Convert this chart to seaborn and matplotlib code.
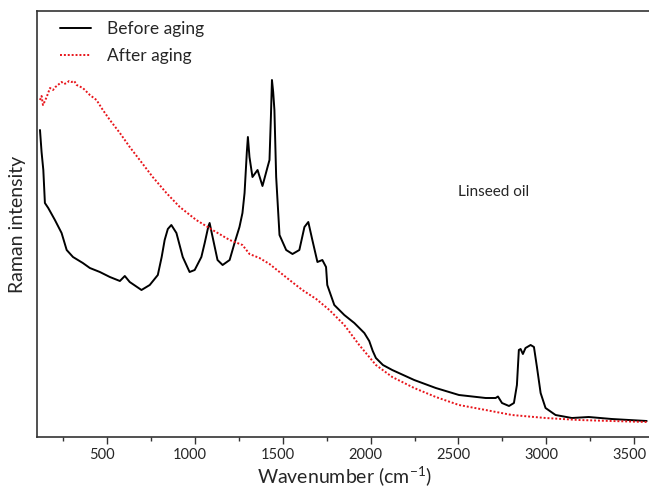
import numpy as np
import pandas as pd
import matplotlib
matplotlib.use("Agg")
import matplotlib.pyplot as plt
import matplotlib.transforms as mtransforms
from matplotlib.ticker import MultipleLocator
import seaborn as sns

# Raman spectrum of linseed oil before aging (wavenumber in cm-1, intensity in a.u.)
before_wavenumber = [117, 126, 136, 145, 164, 202, 240, 269, 305, 361, 401, 458, 515, 572, 600, 628,
                     695, 742, 788, 810, 827, 845, 865, 894, 930, 969, 998, 1036, 1055, 1075, 1083,
                     1100, 1128, 1157, 1197, 1225, 1253, 1270, 1282, 1295, 1301, 1310, 1327, 1356,
                     1384, 1413, 1424, 1432, 1438, 1445, 1452, 1462, 1481, 1519, 1555, 1594, 1623,
                     1645, 1668, 1697, 1725, 1746, 1753, 1793, 1850, 1907, 1964, 1992, 2012, 2030,
                     2070, 2123, 2248, 2371, 2503, 2655, 2712, 2725, 2748, 2788, 2816, 2833, 2844,
                     2854, 2867, 2882, 2911, 2930, 2947, 2968, 2996, 3053, 3146, 3242, 3373, 3572]
before_intensity = [307, 285, 267, 234, 229, 217, 204, 187, 180, 174, 169, 165, 160, 156, 161, 155,
                    147, 152, 162, 180, 197, 208, 212, 204, 180, 165, 167, 180, 194, 210, 214,
                    200, 177, 172, 177, 194, 210, 224, 244, 285, 300, 280, 260, 267,
                    251, 270, 277, 320, 357, 345, 327, 260, 202, 187, 183, 187, 210,
                    215, 197, 175, 177, 170, 152, 132, 122, 114, 104, 96, 86, 79,
                    72, 67, 57, 49, 42, 39, 39, 40.5, 34, 31, 34, 52, 87,
                    88, 83, 89, 92, 90, 70, 44, 29, 22, 19, 20, 18, 16]

# Raman spectrum of linseed oil after aging
after_wavenumber = [117, 126, 134, 145, 155, 174, 191, 205, 219, 240, 255, 269, 283, 297, 312,
                    326, 361, 401, 439, 475, 515, 572, 628, 685, 759, 837, 913, 1007, 1100,
                    1197, 1270, 1310, 1367, 1424, 1481, 1538, 1611, 1690, 1765, 1850, 1935, 2030,
                    2123, 2248, 2371, 2503, 2655, 2805, 2996, 3185, 3373, 3572]
after_intensity = [337, 341, 332, 336, 340, 349, 347, 350, 352, 355, 353, 354, 356, 355, 356,
                   352, 349, 342, 337, 327, 317, 304, 290, 277, 260, 244, 230, 217, 207,
                   197, 192, 183, 179, 173, 165, 157, 147, 138, 127, 112, 92, 72,
                   60, 49, 40, 32, 27, 22, 19, 17, 16, 15]

x_ticks = [500, 1000, 1500, 2000, 2500, 3000, 3500]

before = pd.DataFrame({"Wavenumber": before_wavenumber, "Intensity": before_intensity})
after = pd.DataFrame({"Wavenumber": after_wavenumber, "Intensity": after_intensity})

sns.set_style("ticks")
plt.rcParams["font.family"] = ["Lato", "DejaVu Sans"]

fig = plt.figure(figsize=(6.49, 4.90), dpi=100)
W, H = 649, 490
ax = fig.add_axes([37 / W, 1 - 437 / H, (651.6 - 37) / W, (437 - 11) / H])

sns.lineplot(data=before, x="Wavenumber", y="Intensity", ax=ax, color="black",
             linewidth=1.4, label="Before aging")
sns.lineplot(data=after, x="Wavenumber", y="Intensity", ax=ax, color="#e8151b",
             linewidth=1.4, linestyle=(0, (1, 1)), label="After aging")

ax.set_xlim(100, 3600)
ax.set_ylim(0, 426)
ax.set_xticks(x_ticks)
ax.xaxis.set_minor_locator(MultipleLocator(250))
ax.set_yticks([])
ax.tick_params(axis="x", which="major", direction="out", length=5, width=1.0,
               labelsize=10.5, pad=3, color="#333333")
ax.tick_params(axis="x", which="minor", direction="out", length=3, width=1.0, color="#333333")

# nudge the tick labels a few pixels to the left of their ticks
shift = mtransforms.ScaledTranslation(-5 / 100, 0, fig.dpi_scale_trans)
for lbl in ax.get_xticklabels():
    lbl.set_transform(lbl.get_transform() + shift)

for side in ["left", "bottom", "top"]:
    ax.spines[side].set_color("#333333")
    ax.spines[side].set_linewidth(1.2)
ax.spines["right"].set_visible(False)

ax.set_xlabel("Wavenumber (cm$^{\\mathregular{-1}}$)", fontsize=14, labelpad=2)
ax.set_ylabel("Raman intensity", fontsize=14, labelpad=8)

ax.text(2500, 245, "Linseed oil", fontsize=11, ha="left", va="center")

leg = ax.legend(loc="upper left", frameon=False, fontsize=12.5, handlelength=1.8,
                handletextpad=0.9, labelspacing=0.6, borderaxespad=0.2,
                bbox_to_anchor=(0.02, 1.0))

fig.savefig("out.png", dpi=100)
